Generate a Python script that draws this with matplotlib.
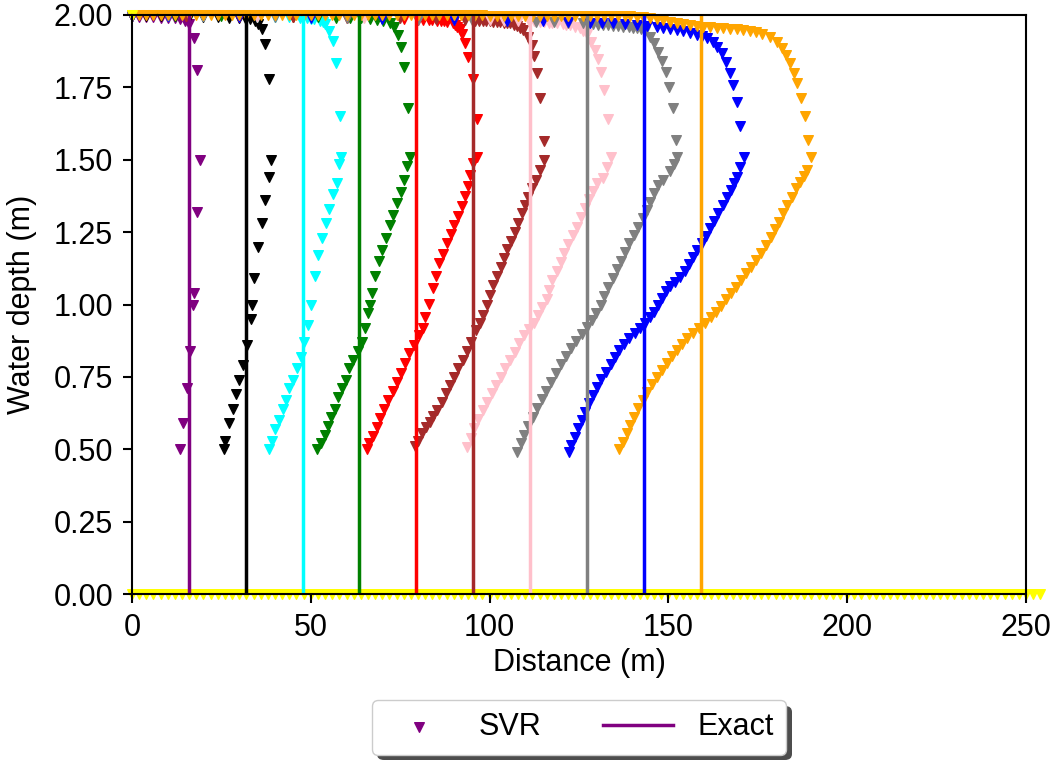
import matplotlib.pyplot as plt
import matplotlib.patheffects as pe

plt.rcParams['font.family'] = ['Liberation Sans', 'DejaVu Sans']

# posiciones del frente exacto (m)
exact_x = [15.9, 31.8, 47.7, 63.6, 79.5, 95.4, 111.3, 127.2, 143.1, 159.0]
exact_depth = [0.0, 2.0]
colors = ['purple', 'black', 'cyan', 'green', 'red', 'brown', 'pink', 'gray', 'blue', 'orange']

# SVR, una lista de x y otra de profundidad por instante
x_purple = [13.4, 14.2, 15.3, 16.2, 17.0, 17.3, 18.3, 19.0, 18.3, 17.3, 16.0, 14.8, 13.5, 12.0,
            10.0, 8.0, 6.0, 4.0, 2.0, 0.0]
y_purple = [0.50, 0.59, 0.71, 0.84, 1.00, 1.04, 1.32, 1.50, 1.81, 1.92, 1.97, 1.98, 1.985, 1.988,
            1.99, 1.99, 1.992, 1.993, 1.994, 1.995]

x_black = [25.7, 26.1, 27.2, 28.2, 29.1, 30.0, 31.1, 32.1, 33.2, 33.6, 34.1, 35.2, 36.3, 37.2, 38.3, 38.9,
           38.2, 37.2, 36.3, 35.3, 34.4, 33.0, 31.5, 30.0, 27.0, 24.0, 20.0, 16.0, 12.0, 8.0, 4.0, 0.0]
y_black = [0.50, 0.53, 0.59, 0.64, 0.69, 0.74, 0.79, 0.86, 0.95, 1.00, 1.09, 1.20, 1.28, 1.36, 1.44, 1.50,
           1.78, 1.90, 1.95, 1.97, 1.98, 1.985, 1.988, 1.99, 1.99, 1.992, 1.993, 1.994, 1.995, 1.995, 1.996, 1.996]

x_cyan = [38.4, 39.1, 40.0, 41.1, 42.1, 43.1, 44.0, 45.1, 46.1, 47.2, 48.1, 49.1, 50.1, 51.2, 52.1, 53.1,
          54.3, 55.2, 56.1, 57.2, 58.0, 58.4,
          58.2, 57.0, 56.1, 55.2, 54.0, 53.3, 52.6, 51.0, 50.0, 49.0, 47.0, 44.0, 40.0, 35.0, 30.0, 20.0, 10.0, 0.0]
y_cyan = [0.50, 0.53, 0.57, 0.60, 0.64, 0.67, 0.71, 0.74, 0.78, 0.82, 0.87, 0.93, 1.00, 1.10, 1.17, 1.23,
          1.28, 1.33, 1.38, 1.42, 1.485, 1.51,
          1.65, 1.835, 1.91, 1.946, 1.969, 1.975, 1.98, 1.985, 1.987, 1.99, 1.99, 1.992, 1.993, 1.994, 1.995,
          1.996, 1.996, 1.997]

x_green = [51.8, 52.9, 54.0, 54.9, 55.8, 56.8, 57.7, 58.6, 59.8, 60.8, 61.9, 63.1, 64.2, 65.2, 66.1,
           66.6, 67.2, 68.1, 69.1, 70.0, 71.0, 72.1, 73.1, 74.1, 75.1, 76.1, 77.0, 77.7,
           77.3, 76.1, 75.1, 74.3, 73.3, 72.1, 70.3, 68.5, 66.5, 64.0, 61.0, 57.0, 52.0, 45.0, 35.0, 25.0, 12.0, 0.0]
y_green = [0.50, 0.52, 0.55, 0.58, 0.61, 0.64, 0.68, 0.71, 0.74, 0.78, 0.81, 0.84, 0.87, 0.92, 0.97,
           1.00, 1.04, 1.10, 1.15, 1.19, 1.23, 1.275, 1.31, 1.35, 1.39, 1.43, 1.48, 1.51,
           1.68, 1.82, 1.89, 1.93, 1.957, 1.971, 1.98, 1.984, 1.986, 1.988, 1.99, 1.99, 1.992, 1.993, 1.995,
           1.996, 1.997, 1.997]

x_red = [65.6, 66.4, 67.3, 68.4, 69.5, 70.6, 71.7, 72.9, 74.0, 75.1, 76.3, 77.5, 78.9, 80.3, 81.3, 81.9,
         83.1, 84.1, 85.0, 85.9, 87.1, 88.0, 89.1, 90.0, 91.2, 92.2, 93.1, 94.0, 94.5, 95.3, 96.4,
         96.4, 95.3, 94.0, 93.1, 92.2, 91.7, 91.0, 90.4, 89.7, 88.0, 87.2, 86.5, 85.2, 84.0, 83.0, 81.5,
         80.0, 76.0, 70.0, 60.0, 45.0, 30.0, 15.0, 0.0]
y_red = [0.50, 0.52, 0.546, 0.576, 0.607, 0.638, 0.670, 0.702, 0.733, 0.764, 0.799, 0.831, 0.860, 0.895,
         0.918, 0.958, 1.002, 1.056, 1.10, 1.142, 1.174, 1.211, 1.244, 1.275, 1.306, 1.34, 1.375, 1.409,
         1.447, 1.488, 1.511,
         1.64, 1.778, 1.854, 1.902, 1.936, 1.95, 1.96, 1.966, 1.971, 1.977, 1.978, 1.979, 1.98, 1.981,
         1.982, 1.983, 1.984, 1.986, 1.988, 1.99, 1.992, 1.994, 1.996, 1.997]

x_brown = [79.1, 80.1, 81.0, 82.2, 83.3, 84.3, 85.4, 86.6, 87.8, 88.9, 90.0, 91.2, 92.5, 93.6, 94.7,
           96.2, 97.3, 98.2, 99.2, 100.1, 101.1, 102.2, 103.1, 104.0, 104.9, 105.9, 107.1, 108.0, 109.0,
           109.9, 110.8, 111.8, 113.0, 114.1, 115.2,
           115.2, 114.1, 113.2, 112.4, 111.8, 110.8, 109.4, 108.6, 107.8, 106.8, 105.7, 105.0, 104.0,
           103.0, 102.0, 101.0, 100.0, 99.0, 98.2, 97.0, 96.0, 93.0, 90.0, 85.0, 75.0, 60.0, 45.0, 30.0,
           15.0, 0.0]
y_brown = [0.51, 0.53, 0.555, 0.578, 0.595, 0.615, 0.636, 0.664, 0.693, 0.722, 0.751, 0.78, 0.808, 0.84,
           0.869, 0.912, 0.935, 0.964, 0.998, 1.033, 1.067, 1.098, 1.131, 1.162, 1.191, 1.22, 1.252, 1.283,
           1.315, 1.344, 1.372, 1.401, 1.43, 1.465, 1.50,
           1.566, 1.715, 1.80, 1.858, 1.896, 1.925, 1.948, 1.955, 1.962, 1.967, 1.971, 1.972, 1.974,
           1.975, 1.977, 1.977, 1.978, 1.979, 1.979, 1.98, 1.98, 1.982, 1.984, 1.986, 1.988, 1.99, 1.992,
           1.994, 1.996, 1.997]

x_pink = [93.8, 94.7, 95.6, 96.8, 98.1, 99.4, 100.6, 101.8, 103.1, 104.3, 105.7, 107.1, 108.3, 109.6,
          111.1, 112.4, 113.6, 114.8, 116.0, 116.7, 117.6, 118.8, 119.9, 120.8, 122.0, 123.2, 124.4,
          125.5, 126.7, 127.9, 129.0, 130.1, 131.8, 132.9, 134.1,
          133.2, 132.0, 131.1, 130.2, 129.5, 128.5, 127.2, 126.2, 125.3, 124.0, 122.5, 121.3, 120.5,
          118.8, 117.5, 116.5, 115.3, 114.1, 112.5, 111.0, 108.0, 104.0, 100.0, 95.0, 90.0, 80.0, 65.0,
          50.0, 35.0, 20.0, 0.0]
y_pink = [0.509, 0.538, 0.572, 0.603, 0.636, 0.664, 0.693, 0.722, 0.751, 0.78, 0.808, 0.837, 0.866,
          0.895, 0.914, 0.937, 0.964, 0.99, 1.018, 1.05, 1.085, 1.117, 1.148, 1.179, 1.209, 1.24, 1.269,
          1.301, 1.332, 1.363, 1.393, 1.421, 1.436, 1.476, 1.508,
          1.64, 1.741, 1.804, 1.847, 1.879, 1.908, 1.936, 1.946, 1.954, 1.96, 1.965, 1.966, 1.968,
          1.971, 1.972, 1.974, 1.975, 1.977, 1.978, 1.978, 1.979, 1.98, 1.981, 1.983, 1.985, 1.987, 1.99,
          1.992, 1.994, 1.996, 1.997]

x_gray = [107.7, 108.7, 109.6, 110.8, 112.1, 113.2, 114.6, 115.8, 117.1, 118.6, 119.9, 121.4, 122.7,
          124.2, 125.8, 127.2, 128.6, 129.9, 131.1, 132.0, 133.2, 134.4, 135.5, 136.7, 137.9, 139.1,
          140.4, 141.6, 142.8, 143.9, 144.9, 146.0, 147.2, 148.6, 150.5, 151.6, 152.3,
          152.1, 151.2, 150.3, 149.3, 148.1, 147.2, 146.0, 144.9, 143.5, 142.3, 141.1, 140.0, 139.0,
          137.4, 135.8, 134.5, 133.0, 131.8, 130.3, 129.0, 127.6, 126.2, 122.0, 118.0, 113.0, 105.0,
          95.0, 80.0, 60.0, 40.0, 20.0, 0.0]
y_gray = [0.492, 0.52, 0.549, 0.58, 0.612, 0.641, 0.672, 0.702, 0.733, 0.764, 0.794, 0.822, 0.849,
          0.875, 0.898, 0.923, 0.946, 0.972, 0.998, 1.029, 1.062, 1.09, 1.122, 1.151, 1.183, 1.211,
          1.24, 1.269, 1.298, 1.326, 1.355, 1.384, 1.413, 1.43, 1.46, 1.485, 1.511,
          1.568, 1.678, 1.75, 1.804, 1.842, 1.873, 1.902, 1.925, 1.943, 1.95, 1.954, 1.956, 1.958,
          1.96, 1.962, 1.963, 1.964, 1.965, 1.966, 1.968, 1.97, 1.971, 1.973, 1.975, 1.977, 1.979,
          1.981, 1.984, 1.988, 1.992, 1.995, 1.997]

x_blue = [122.3, 122.9, 123.9, 124.8, 125.8, 126.7, 127.9, 129.0, 130.1, 131.3, 132.6, 133.9, 135.1,
          136.3, 137.6, 139.1, 140.7, 142.1, 143.5, 144.9, 146.0, 147.2, 148.1, 149.3, 150.5, 151.9,
          153.2, 154.6, 155.8, 157.0, 158.1, 159.3, 160.5, 161.6, 162.8, 164.0, 165.2, 166.3, 167.4,
          168.3, 169.1, 170.0, 171.1,
          170.0, 169.1, 168.1, 167.2, 166.1, 164.9, 163.7, 162.4, 160.7, 159.3, 157.9, 156.0, 154.2,
          152.3, 150.4, 148.5, 146.7, 144.0, 141.1, 138.0, 134.6, 131.5, 128.1, 122.0, 115.0, 105.0,
          90.0, 70.0, 50.0, 30.0, 10.0, 0.0]
y_blue = [0.492, 0.515, 0.543, 0.572, 0.601, 0.63, 0.659, 0.687, 0.716, 0.742, 0.768, 0.794, 0.82,
          0.843, 0.864, 0.883, 0.90, 0.918, 0.935, 0.956, 0.975, 0.998, 1.021, 1.045, 1.064, 1.079,
          1.096, 1.117, 1.14, 1.163, 1.188, 1.211, 1.237, 1.263, 1.29, 1.317, 1.344, 1.37, 1.396,
          1.421, 1.442, 1.476, 1.511,
          1.617, 1.701, 1.758, 1.80, 1.839, 1.868, 1.891, 1.908, 1.92, 1.926, 1.931, 1.937, 1.943,
          1.947, 1.951, 1.955, 1.958, 1.961, 1.965, 1.968, 1.971, 1.972, 1.974, 1.976, 1.978, 1.98,
          1.983, 1.987, 1.99, 1.993, 1.996, 1.997]

x_orange = [136.3, 137.2, 138.3, 139.3, 140.4, 141.6, 143.0, 144.1, 145.3, 146.7, 148.1, 149.5, 150.9,
            152.3, 153.7, 155.3, 157.0, 158.6, 160.2, 161.8, 163.3, 164.6, 166.1, 167.4, 168.9, 170.2,
            171.7, 173.0, 174.5, 175.8, 177.3, 178.6, 179.8, 181.0, 182.1, 183.2, 184.5, 185.7, 186.8,
            187.8, 188.7, 189.8,
            189.1, 188.2, 187.0, 186.0, 185.1, 184.0, 182.9, 181.7, 180.3, 178.4, 176.1, 174.5, 172.8,
            170.9, 169.1, 167.3, 165.4, 163.5, 161.6, 159.8, 157.9, 156.0, 154.2, 152.3, 150.5, 148.6,
            146.7, 144.8, 143.0, 141.1, 139.3]
y_orange = [0.50, 0.526, 0.555, 0.584, 0.612, 0.641, 0.67, 0.699, 0.725, 0.751, 0.774, 0.799, 0.822,
            0.843, 0.864, 0.883, 0.90, 0.918, 0.935, 0.956, 0.975, 0.995, 1.018, 1.039, 1.062, 1.085,
            1.108, 1.128, 1.154, 1.179, 1.205, 1.232, 1.26, 1.286, 1.315, 1.344, 1.372, 1.401, 1.424,
            1.445, 1.465, 1.508,
            1.568, 1.651, 1.715, 1.764, 1.80, 1.833, 1.862, 1.885, 1.908, 1.925, 1.936, 1.941, 1.946,
            1.949, 1.951, 1.953, 1.954, 1.956, 1.958, 1.96, 1.962, 1.965, 1.969, 1.973, 1.977, 1.981,
            1.985, 1.988, 1.992, 1.994, 1.996]

# banda superior del ultimo instante (x < 139 m)
x_orange_top = [138, 136, 134, 132, 130, 128, 126, 124, 122, 120,
                118, 116, 114, 112, 110, 108, 106, 104, 102, 100,
                98, 96, 94, 92, 90, 88, 86, 84, 82, 80,
                78, 76, 74, 72, 70, 68, 66, 64, 62, 60,
                58, 56, 54, 52, 50, 48, 46, 44, 42, 40,
                38, 36, 34, 32, 30, 28, 26, 24, 22, 20,
                18, 16, 14, 12, 10, 8, 6, 4, 2, 0]
y_orange_top = [1.997, 1.997, 1.997, 1.997, 1.998, 1.998, 1.998, 1.998, 1.998, 1.998,
                1.998, 1.998, 1.998, 1.998, 1.998, 1.998, 1.998, 1.998, 1.998, 1.998,
                1.999, 1.999, 1.999, 1.999, 1.999, 1.999, 1.999, 1.999, 1.999, 1.999,
                2.0, 2.0, 2.0, 2.0, 2.0, 2.0, 2.0, 2.0, 2.0, 2.0,
                2.0, 2.0, 2.0, 2.0, 2.0, 2.0, 2.0, 2.0, 2.0, 2.0,
                2.0, 2.0, 2.0, 2.0, 2.0, 2.0, 2.0, 2.0, 2.0, 2.0,
                2.0, 2.0, 2.0, 2.0, 2.0, 2.0, 2.0, 2.0, 2.0, 2.0]

# estado inicial (lecho seco)
x_yellow = [0, 2, 4, 6, 8, 10, 12, 14, 16, 18, 20, 22, 24, 26, 28, 30,
            32, 34, 36, 38, 40, 42, 44, 46, 48, 50, 52, 54, 56, 58, 60, 62,
            64, 66, 68, 70, 72, 74, 76, 78, 80, 82, 84, 86, 88, 90, 92, 94,
            96, 98, 100, 102, 104, 106, 108, 110, 112, 114, 116, 118, 120, 122, 124, 126,
            128, 130, 132, 134, 136, 138, 140, 142, 144, 146, 148, 150, 152, 154, 156, 158,
            160, 162, 164, 166, 168, 170, 172, 174, 176, 178, 180, 182, 184, 186, 188, 190,
            192, 194, 196, 198, 200, 202, 204, 206, 208, 210, 212, 214, 216, 218, 220, 222,
            224, 226, 228, 230, 232, 234, 236, 238, 240, 242, 244, 246, 248, 250, 252, 254]
y_yellow = [0, 0, 0, 0, 0, 0, 0, 0, 0, 0, 0, 0, 0, 0, 0, 0,
            0, 0, 0, 0, 0, 0, 0, 0, 0, 0, 0, 0, 0, 0, 0, 0,
            0, 0, 0, 0, 0, 0, 0, 0, 0, 0, 0, 0, 0, 0, 0, 0,
            0, 0, 0, 0, 0, 0, 0, 0, 0, 0, 0, 0, 0, 0, 0, 0,
            0, 0, 0, 0, 0, 0, 0, 0, 0, 0, 0, 0, 0, 0, 0, 0,
            0, 0, 0, 0, 0, 0, 0, 0, 0, 0, 0, 0, 0, 0, 0, 0,
            0, 0, 0, 0, 0, 0, 0, 0, 0, 0, 0, 0, 0, 0, 0, 0,
            0, 0, 0, 0, 0, 0, 0, 0, 0, 0, 0, 0, 0, 0, 0, 0]
x_yellow_top = [0]
y_yellow_top = [2.0]

svr_x = [x_purple, x_black, x_cyan, x_green, x_red, x_brown, x_pink, x_gray, x_blue, x_orange + x_orange_top]
svr_y = [y_purple, y_black, y_cyan, y_green, y_red, y_brown, y_pink, y_gray, y_blue, y_orange + y_orange_top]

fig = plt.figure(figsize=(10.59, 7.65), dpi=100)
ax = fig.add_axes([0.1246, 0.2235, 0.8442, 0.7569])

for i in range(len(colors)):
    ax.scatter(svr_x[i], svr_y[i], marker='v', s=48, color=colors[i], clip_on=False,
               label='SVR' if i == 0 else None)
ax.scatter(x_yellow, y_yellow, marker='v', s=48, color='yellow', clip_on=False)
ax.scatter(x_yellow_top, y_yellow_top, marker='v', s=48, color='yellow', clip_on=False)

for i in range(len(colors)):
    ax.plot([exact_x[i], exact_x[i]], exact_depth, color=colors[i], linewidth=2.5,
            label='Exact' if i == 0 else None)

ax.set_xlim(0, 250)
ax.set_ylim(0, 2)
ax.set_xticks([0, 50, 100, 150, 200, 250])
ax.set_yticks([0, 0.25, 0.5, 0.75, 1.0, 1.25, 1.5, 1.75, 2.0])
ax.set_yticklabels(['%.2f' % v for v in ax.get_yticks()])
ax.set_xlabel('Distance (m)', fontsize=22)
ax.set_ylabel('Water depth (m)', fontsize=22, labelpad=12)
ax.tick_params(labelsize=22, length=6.5, width=1.5, pad=7)
for s in ax.spines.values():
    s.set_linewidth(1.5)

leg = ax.legend(loc='upper center', bbox_to_anchor=(0.5, -0.157), ncol=2, fontsize=22,
                handlelength=2.3, fancybox=True, framealpha=1.0)
leg.get_frame().set_path_effects([pe.withSimplePatchShadow(offset=(4, -4), shadow_rgbFace='#4d4d4d',
                                                           alpha=1.0)])

fig.savefig('out.png', dpi=100)
